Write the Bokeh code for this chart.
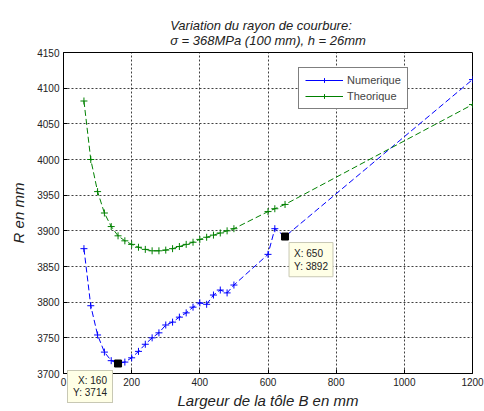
from bokeh.plotting import figure
from bokeh.models import FixedTicker, Label, Range1d, Legend, LegendItem, Div
from bokeh.layouts import column
from bokeh.embed import file_html
from bokeh.resources import INLINE

largeur = [60, 80, 100, 120, 140, 160, 180, 200, 220, 240, 260, 280, 300, 320,
           340, 360, 380, 400, 420, 440, 460, 480, 500, 600, 620, 650, 1200]
r_numerique = [3875, 3795, 3754, 3730, 3718, 3714, 3716, 3722, 3731, 3741, 3750, 3757, 3768, 3772,
               3779, 3785, 3793, 3799, 3797, 3810, 3817, 3813, 3824, 3867, 3903, 3892, 4112]
r_theorique = [4082, 4000, 3955, 3925, 3906, 3893, 3886, 3881, 3877, 3874, 3872, 3872, 3873, 3875,
               3878, 3881, 3884, 3888, 3891, 3894, 3897, 3900, 3903, 3927, 3931, 3937, 4077]
x_ticks = [0, 200, 400, 600, 800, 1000, 1200]
y_ticks = [3700, 3750, 3800, 3850, 3900, 3950, 4000, 4050, 4100, 4150]
tip_x = [160, 650]
tip_y = [3714, 3892]

FONT = "Liberation Sans"
NAN = float("nan")

p = figure(width=484, height=411, output_backend="svg", toolbar_location=None,
           x_range=Range1d(0, 1200), y_range=Range1d(3700, 4150),
           min_border_left=63, min_border_right=12, min_border_top=52, min_border_bottom=35)

p.title.text = "Variation du rayon de courbure:\n\u03c3 = 368MPa (100 mm), h = 26mm"
p.title.align = "center"
p.title.text_font = FONT
p.title.text_font_size = "13px"
p.title.text_font_style = "italic"
p.title.text_color = "#222222"

p.outline_line_color = "black"
p.background_fill_color = "white"
p.border_fill_color = "white"

for ax in [p.xaxis[0], p.yaxis[0]]:
    ax.major_tick_in = 4
    ax.major_tick_out = 0
    ax.minor_tick_line_color = None
    ax.axis_line_color = "black"
    ax.major_tick_line_color = "black"
    ax.major_label_text_font = FONT
    ax.major_label_text_font_size = "10px"
    ax.major_label_text_color = "#222222"
    ax.axis_label_text_font = FONT
    ax.axis_label_text_font_size = "15px"
    ax.axis_label_text_font_style = "italic"
    ax.axis_label_text_color = "#222222"
    ax.major_label_standoff = 4

p.xaxis[0].ticker = FixedTicker(ticks=x_ticks)
p.yaxis[0].ticker = FixedTicker(ticks=y_ticks)
p.xaxis[0].axis_label = "Largeur de la t\u00f4le B en mm"
p.yaxis[0].axis_label = "R en mm"
p.xaxis[0].axis_label_standoff = 3
p.yaxis[0].axis_label_standoff = 7

p.xgrid[0].ticker = FixedTicker(ticks=x_ticks)
p.ygrid[0].ticker = FixedTicker(ticks=y_ticks)
for g in [p.xgrid[0], p.ygrid[0]]:
    g.grid_line_color = "black"
    g.grid_line_alpha = 0.75
    g.grid_line_dash = "2 2"

p.line(largeur, r_numerique, line_color="blue", line_width=1, line_dash="6 3")
s_num = p.scatter(largeur, r_numerique, marker="cross", size=7, line_color="blue")
p.line(largeur, r_theorique, line_color="green", line_width=1, line_dash="6 3")
s_the = p.scatter(largeur, r_theorique, marker="cross", size=7, line_color="green")
l_num = p.line(x=[NAN, NAN], y=[NAN, NAN], line_color="blue", line_width=1)
l_the = p.line(x=[NAN, NAN], y=[NAN, NAN], line_color="green", line_width=1)

p.scatter(tip_x, tip_y, marker="square", size=7, fill_color="black", line_color="black")

# datatip 2 (inside the frame)
p.add_layout(Label(x=tip_x[1], y=tip_y[1], text=f"X: {tip_x[1]}\nY: {tip_y[1]}",
                   text_align="left", text_baseline="top", x_offset=4, y_offset=-6,
                   text_font=FONT, text_font_size="10px", text_color="#222222",
                   background_fill_color="#FFFFE6", border_line_color="#C8C8B4",
                   padding=5))

lg = Legend(items=[LegendItem(label="Numerique", renderers=[l_num, s_num]),
                   LegendItem(label="Theorique", renderers=[l_the, s_the])],
            location=(235, 264))
lg.border_line_color = "black"
lg.background_fill_color = "white"
lg.background_fill_alpha = 1
lg.label_text_font = FONT
lg.label_text_font_size = "11px"
lg.glyph_width = 38
lg.glyph_height = 12
lg.label_standoff = 4
lg.spacing = 4
lg.padding = 6
lg.margin = 0
p.add_layout(lg, "center")

# datatip 1 straddles the lower edge of the frame, so it is overlaid as a box
tip1 = Div(text=f"X: {tip_x[0]}<br>Y: {tip_y[0]}", width=46, height=33,
           margin=(-41, 0, 0, 67),
           styles={"font-family": FONT, "font-size": "10px", "color": "#222222",
                   "background-color": "#FFFFE6", "border": "1px solid #C8C8B4",
                   "text-align": "right", "line-height": "12px", "padding": "4px 5px",
                   "box-sizing": "border-box", "z-index": "10"})

layout = column(p, tip1, spacing=0)
open("out.html", "w").write(file_html(layout, INLINE))
